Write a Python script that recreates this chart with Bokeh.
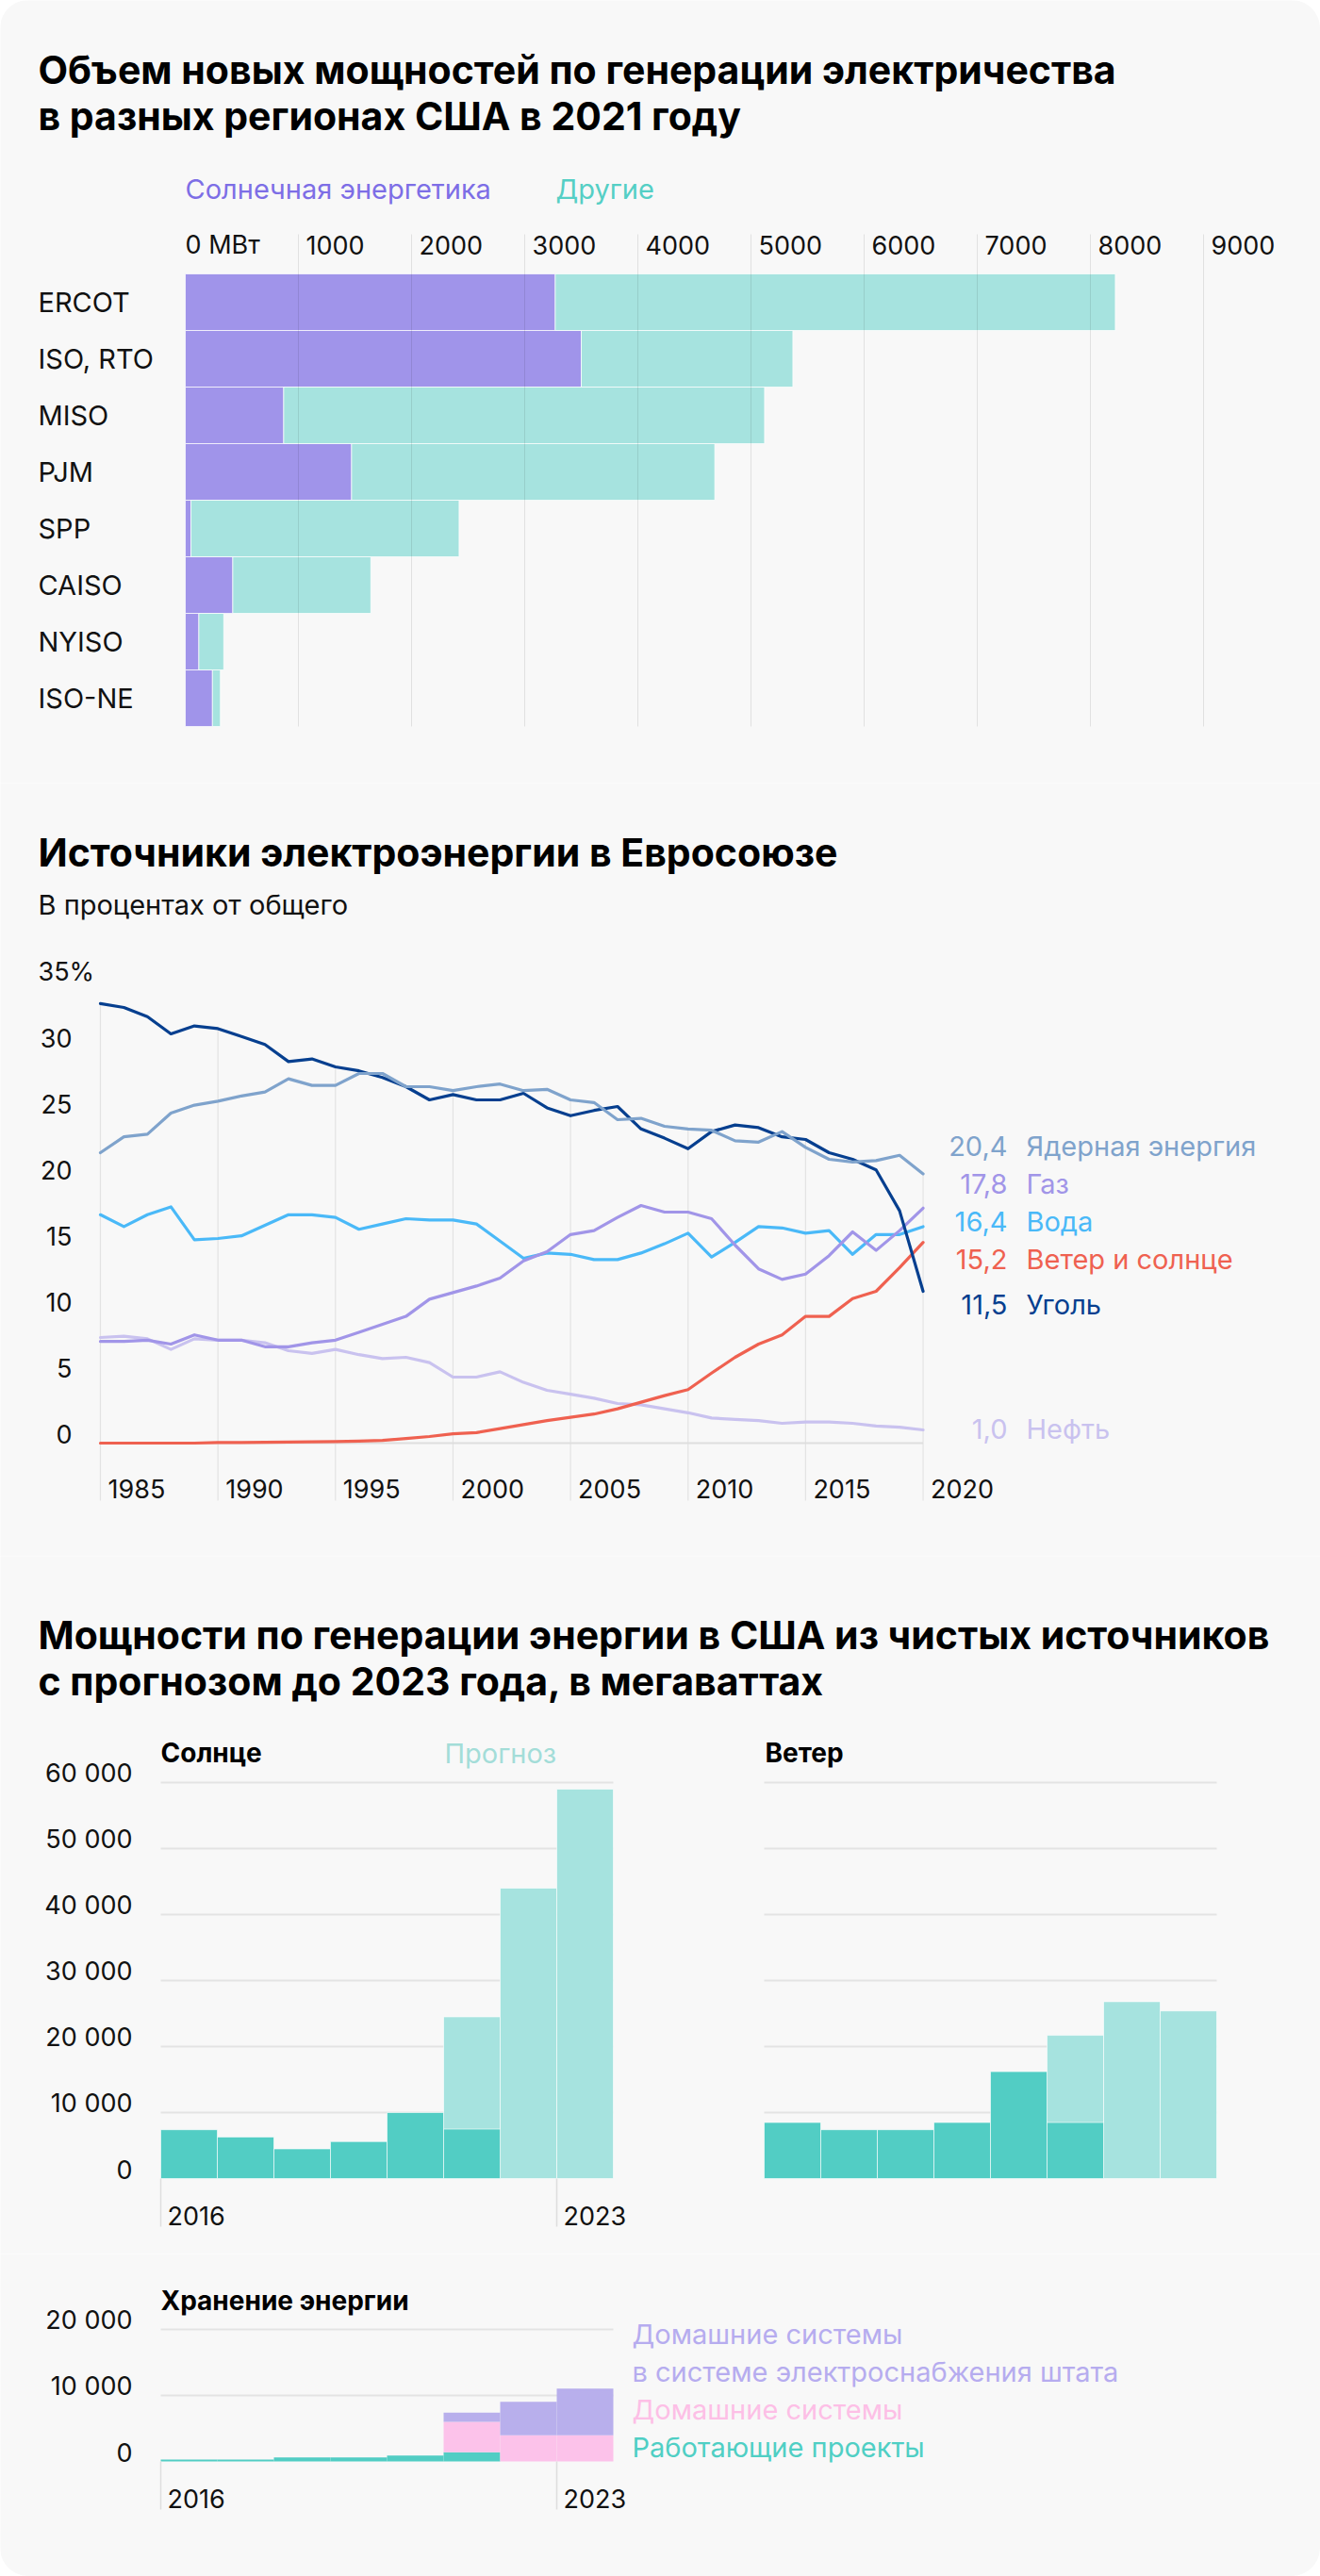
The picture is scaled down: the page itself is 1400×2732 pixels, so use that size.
from bokeh.plotting import figure
from bokeh.layouts import column
from bokeh.models import Range1d
from bokeh.embed import file_html
from bokeh.resources import INLINE
from bokeh.core.properties import value

# ---------------- data: chart 1 ----------------
regions = ["ERCOT", "ISO, RTO", "MISO", "PJM", "SPP", "CAISO", "NYISO", "ISO-NE"]
solar_mw = [3270, 3500, 870, 1470, 50, 420, 120, 240]
other_mw = [4950, 1870, 4250, 3210, 2370, 1220, 220, 70]
mw_ticks = [0, 1000, 2000, 3000, 4000, 5000, 6000, 7000, 8000, 9000]

# ---------------- data: chart 2 ----------------
years = list(range(1985, 2021))
coal = [33.3, 33.0, 32.3, 31.0, 31.6, 31.4, 30.8, 30.2, 28.9, 29.1, 28.5, 28.2,
        27.7, 27.0, 26.0, 26.4, 26.0, 26.0, 26.5, 25.4, 24.8, 25.2, 25.5, 23.8,
        23.1, 22.3, 23.6, 24.1, 23.9, 23.2, 23.0, 22.0, 21.5, 20.7, 17.6, 11.5]
nuclear = [22.0, 23.2, 23.4, 25.0, 25.6, 25.9, 26.3, 26.6, 27.6, 27.1, 27.1, 28.0,
           28.0, 27.0, 27.0, 26.7, 27.0, 27.2, 26.7, 26.8, 26.0, 25.8, 24.5, 24.6,
           24.0, 23.8, 23.7, 22.9, 22.8, 23.6, 22.4, 21.5, 21.3, 21.4, 21.8, 20.4]
hydro = [17.3, 16.4, 17.3, 17.9, 15.4, 15.5, 15.7, 16.5, 17.3, 17.3, 17.1, 16.2,
         16.6, 17.0, 16.9, 16.9, 16.6, 15.3, 14.0, 14.4, 14.3, 13.9, 13.9, 14.4,
         15.1, 15.9, 14.1, 15.2, 16.4, 16.3, 15.9, 16.1, 14.3, 15.8, 15.8, 16.4]
gas = [7.7, 7.7, 7.8, 7.5, 8.2, 7.8, 7.8, 7.3, 7.3, 7.6, 7.8, 8.4,
       9.0, 9.6, 10.9, 11.4, 11.9, 12.5, 13.8, 14.5, 15.8, 16.1, 17.1, 18.0,
       17.5, 17.5, 17.0, 15.0, 13.2, 12.4, 12.8, 14.2, 16.0, 14.6, 16.1, 17.8]
wind_solar = [0.0, 0.0, 0.0, 0.0, 0.0, 0.05, 0.05, 0.06, 0.08, 0.1, 0.12, 0.15,
              0.2, 0.35, 0.5, 0.7, 0.8, 1.1, 1.4, 1.7, 1.95, 2.2, 2.6, 3.1,
              3.6, 4.05, 5.3, 6.5, 7.5, 8.2, 9.6, 9.6, 10.95, 11.5, 13.3, 15.2]
oil = [8.0, 8.1, 7.9, 7.1, 7.9, 7.8, 7.8, 7.6, 7.0, 6.8, 7.1, 6.7,
       6.4, 6.5, 6.1, 5.0, 5.0, 5.4, 4.6, 4.0, 3.7, 3.4, 3.0, 2.9,
       2.6, 2.3, 1.9, 1.8, 1.7, 1.5, 1.6, 1.6, 1.5, 1.3, 1.2, 1.0]
series_names = ["Ядерная энергия", "Газ", "Вода", "Ветер и солнце", "Уголь", "Нефть"]
pct_ticks = [0, 5, 10, 15, 20, 25, 30, 35]
year_ticks = [1985, 1990, 1995, 2000, 2005, 2010, 2015, 2020]

# ---------------- data: chart 3 ----------------
cap_years = [2016, 2017, 2018, 2019, 2020, 2021, 2022, 2023]
actual_years = [2016, 2017, 2018, 2019, 2020, 2021]
forecast_years = [2021, 2022, 2023]
solar_actual = [7400, 6300, 4500, 5600, 10000, 7500]
solar_forecast = [24500, 44000, 59000]
wind_actual = [8500, 7400, 7400, 8500, 16200, 8500]
wind_forecast = [21700, 26800, 25400]
cap_ticks = [0, 10000, 20000, 30000, 40000, 50000, 60000]
storage_working = [300, 300, 600, 600, 900, 1400, 0, 0]
storage_home = [0, 0, 0, 0, 0, 4600, 3950, 3950]
storage_grid = [0, 0, 0, 0, 0, 1400, 5100, 7100]
storage_ticks = [0, 10000, 20000]
year_marks = [2016, 2023]

# ---------------- styling ----------------
FONT = "Inter"
BG = "#f8f8f8"
INK = "#111111"
PAGE_X = 0
W = 1400
C_SOLAR = "#a094ea"
C_OTHER = "#a6e3df"
C_ACT = "#52cdc4"
C_FC = "#a6e3df"
NUM = 27     # numeric tick labels
TXT = 29     # word labels
HEAD = 41    # section titles
SUB = 28     # panel titles
MID = 0.36   # cap centre above baseline, in em


class Panel:
    def __init__(self, top, height, xa, xpx, xscale, ya, ypx, yscale):
        self.xa, self.xpx, self.xs = xa, xpx, xscale
        self.ya, self.ypx, self.ys = ya, ypx, yscale
        x0 = self.X(PAGE_X)
        x1 = self.X(PAGE_X + W)
        ytop = self.Y(top)
        ybot = self.Y(top + height)
        self.p = figure(width=W, height=height,
                        x_range=Range1d(x0, x1), y_range=Range1d(ybot, ytop),
                        output_backend="svg", toolbar_location=None,
                        x_axis_location=None, y_axis_location=None,
                        min_border=0, min_border_left=0, min_border_right=0,
                        min_border_top=0, min_border_bottom=0,
                        background_fill_color=BG, border_fill_color=BG)
        self.p.outline_line_color = None
        self.p.grid.visible = False

    def X(self, px):
        return self.xa + (px - self.xpx) / self.xs

    def Y(self, py):
        return self.ya + (self.ypx - py) / self.ys

    def txt(self, px, py, s, size=TXT, color=INK, bold=False, align="left", center=False):
        # py: baseline (or centre when center=True), in page pixels
        yc = py if center else py - MID * size
        self.p.text(x=[self.X(px)], y=[self.Y(yc)], text=[s],
                    text_font=value(FONT), text_font_size=f"{size}px",
                    text_font_style="bold" if bold else "normal",
                    text_color=color, text_align=align, text_baseline="middle")

    def title(self, px, py, s):
        self.txt(px, py, s, size=HEAD, bold=True, color="#000")

    def labels(self, xs, ys, texts, size=NUM, align="left", x_offset=0, on_baseline=True):
        self.p.text(x=xs, y=ys, text=texts, x_offset=x_offset,
                    y_offset=-MID * size if on_baseline else 0,
                    text_font=value(FONT), text_font_size=f"{size}px",
                    text_color=INK, text_align=align, text_baseline="middle")


def fmt_thousands(v):
    return f"{v:,}".replace(",", " ")


# ================= chart 1 =================
c1 = Panel(top=0, height=830, xa=0, xpx=196, xscale=0.12, ya=0, ypx=290, yscale=-60)
p1 = c1.p
c1.title(40, 88, "Объем новых мощностей по генерации электричества")
c1.title(40, 137, "в разных регионах США в 2021 году")
c1.txt(196, 210, "Солнечная энергетика", color="#7d6ee6")
c1.txt(589, 210, "Другие", color="#55cfc5")

rows = [i + 0.5 for i in range(len(regions))]
totals = [s + o for s, o in zip(solar_mw, other_mw)]
p1.hbar(y=rows, left=0, right=solar_mw, height=1, fill_color=C_SOLAR,
        line_color="white", line_alpha=0.7, line_width=1)
p1.hbar(y=rows, left=solar_mw, right=totals, height=1, fill_color=C_OTHER,
        line_color="white", line_alpha=0.7, line_width=1)
p1.segment(x0=mw_ticks[1:], x1=mw_ticks[1:], y0=c1.Y(248), y1=c1.Y(770),
           line_color="black", line_alpha=0.09, line_width=1)
c1.labels(mw_ticks[1:], [c1.Y(269)] * (len(mw_ticks) - 1),
          [str(t) for t in mw_ticks[1:]], x_offset=8)
c1.labels([mw_ticks[0]], [c1.Y(269)], [f"{mw_ticks[0]} МВт"])
c1.labels([c1.X(40)] * len(regions), rows, regions, size=TXT, on_baseline=False)

# ================= chart 2 =================
c2 = Panel(top=830, height=820, xa=1985, xpx=106, xscale=24.93, ya=0, ypx=1530, yscale=14)
p2 = c2.p
c2.title(40, 918, "Источники электроэнергии в Евросоюзе")
c2.txt(40, 969, "В процентах от общего")

all_series = [nuclear, gas, hydro, wind_solar, coal, oil]
colors = ["#7fa3cc", "#a195e8", "#4ab9f8", "#ef6150", "#063f8f", "#c9c2ef"]
grid_tops = [max(s[years.index(y)] for s in all_series) for y in year_ticks]
p2.segment(x0=year_ticks, x1=year_ticks, y0=grid_tops, y1=[c2.Y(1591)] * len(year_ticks),
           line_color="#e3e3e3", line_width=1.2)
p2.segment(x0=[years[0]], x1=[years[-1]], y0=[0], y1=[0], line_color="#dedede", line_width=2)

for idx in [5, 3, 2, 1, 4, 0]:
    p2.line(years, all_series[idx], line_color=colors[idx], line_width=3.2,
            line_join="round", line_cap="round")

c2.labels([c2.X(76)] * (len(pct_ticks) - 1), pct_ticks[:-1],
          [str(t) for t in pct_ticks[:-1]], align="right")
c2.labels([c2.X(40)], [pct_ticks[-1]], [f"{pct_ticks[-1]}%"])
c2.labels(year_ticks, [c2.Y(1588)] * len(year_ticks), [str(y) for y in year_ticks], x_offset=8)
label_py = [1215, 1255, 1295, 1335, 1383, 1515]
for s, name, col, py in zip(all_series, series_names, colors, label_py):
    num = f"{s[-1]:.1f}".replace(".", ",")
    c2.txt(1068, py, num, color=col, align="right", center=True)
    c2.txt(1088, py, name, color=col, center=True)

# ================= chart 3a =================
c3 = Panel(top=1650, height=740, xa=2015.5, xpx=170, xscale=60, ya=0, ypx=2310, yscale=0.007)
p3 = c3.p
WIND_SHIFT = (810 - 170) / 60
p3.extra_x_ranges = {"wind": Range1d(p3.x_range.start - WIND_SHIFT, p3.x_range.end - WIND_SHIFT)}

c3.title(40, 1748, "Мощности по генерации энергии в США из чистых источников")
c3.title(40, 1797, "с прогнозом до 2023 года, в мегаваттах")
c3.txt(170, 1869, "Солнце", size=SUB, bold=True, color="#000")
c3.txt(471, 1869, "Прогноз", color="#a3ddd8")
c3.txt(811, 1869, "Ветер", size=SUB, bold=True, color="#000")

x_lo = cap_years[0] - 0.5
x_hi = cap_years[-1] + 0.5
gl = cap_ticks[1:]
for rn in ["default", "wind"]:
    p3.segment(x0=[x_lo] * len(gl), x1=[x_hi] * len(gl), y0=gl, y1=gl,
               line_color="#e3e3e3", line_width=2, x_range_name=rn)

bar_kw = dict(width=1, bottom=0, line_color="white", line_alpha=0.6, line_width=1)
p3.vbar(x=forecast_years, top=solar_forecast, fill_color=C_FC, **bar_kw)
p3.vbar(x=actual_years, top=solar_actual, fill_color=C_ACT, **bar_kw)
p3.vbar(x=forecast_years, top=wind_forecast, fill_color=C_FC, x_range_name="wind", **bar_kw)
p3.vbar(x=actual_years, top=wind_actual, fill_color=C_ACT, x_range_name="wind", **bar_kw)

c3.labels([c3.X(140)] * len(cap_ticks), cap_ticks, [fmt_thousands(t) for t in cap_ticks], align="right")
mark_x = [y - 0.5 for y in year_marks]
p3.segment(x0=mark_x, x1=mark_x, y0=[0] * 2, y1=[c3.Y(2361)] * 2, line_color="#dedede", line_width=1.5)
c3.labels(mark_x, [c3.Y(2359)] * 2, [str(y) for y in year_marks], x_offset=7)

# ================= chart 3b =================
c4 = Panel(top=2390, height=342, xa=2015.5, xpx=170, xscale=60, ya=0, ypx=2610, yscale=0.007)
p4 = c4.p
c4.txt(170, 2450, "Хранение энергии", size=SUB, bold=True, color="#000")
gl4 = storage_ticks[1:]
p4.segment(x0=[x_lo] * len(gl4), x1=[x_hi] * len(gl4), y0=gl4, y1=gl4,
           line_color="#e3e3e3", line_width=2)
p4.vbar_stack(["working", "home", "grid"], x="year", width=1,
              color=[C_ACT, "#fcc2ea", "#b8afec"], line_color=None,
              source=dict(year=cap_years, working=storage_working,
                          home=storage_home, grid=storage_grid))
c4.labels([c4.X(140)] * len(storage_ticks), storage_ticks,
          [fmt_thousands(t) for t in storage_ticks], align="right")
p4.segment(x0=mark_x, x1=mark_x, y0=[0] * 2, y1=[c4.Y(2661)] * 2, line_color="#dedede", line_width=1.5)
c4.labels(mark_x, [c4.Y(2659)] * 2, [str(y) for y in year_marks], x_offset=7)
c4.txt(670, 2485, "Домашние системы", color="#b6acef")
c4.txt(670, 2525, "в системе электроснабжения штата", color="#b6acef")
c4.txt(670, 2565, "Домашние системы", color="#fdbfe6")
c4.txt(670, 2605, "Работающие проекты", color="#4fcfc4")

layout = column(p1, p2, p3, p4, spacing=0,
                styles={"border-radius": "30px", "overflow": "hidden"})
open("out.html", "w").write(file_html(layout, INLINE))
